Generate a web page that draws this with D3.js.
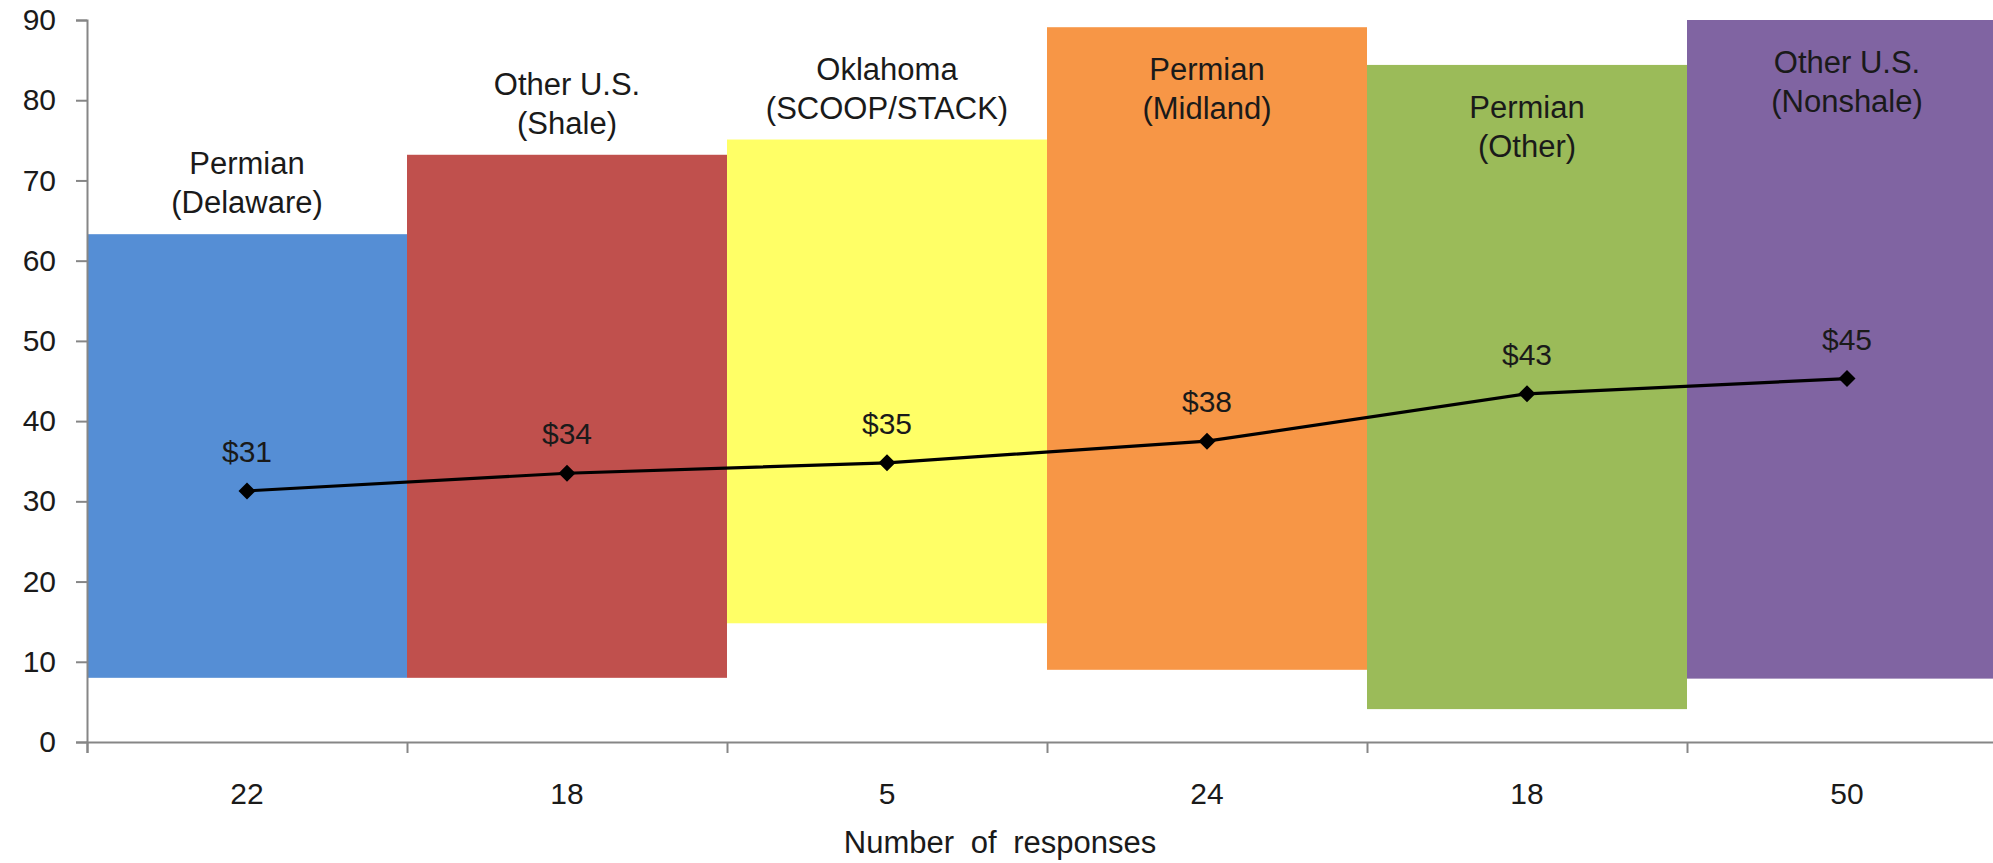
<!DOCTYPE html>
<html>
<head>
<meta charset="utf-8">
<script src="https://cdn.jsdelivr.net/npm/d3@7"></script>
<style>
  body { margin: 0; background: #fff; }
  text { font-family: "Liberation Sans", Arial, sans-serif; fill: #1a1a1a; }
</style>
</head>
<body>
<div id="vis"></div>
<script>
const width = 1993;
const height = 863;

// regions, in the order they sit along the x axis
const regionLines = [
  ["Permian", "(Delaware)"],
  ["Other U.S.", "(Shale)"],
  ["Oklahoma", "(SCOOP/STACK)"],
  ["Permian", "(Midland)"],
  ["Permian", "(Other)"],
  ["Other U.S.", "(Nonshale)"]
];
const responses = ["22", "18", "5", "24", "18", "50"];
const rangeLow  = [8, 8, 14.8, 9, 4.1, 7.9];
const rangeHigh = [63.3, 73.2, 75.1, 89.1, 84.4, 90];
const average   = [31.3, 33.5, 34.8, 37.5, 43.4, 45.3];
const avgLabels = ["$31", "$34", "$35", "$38", "$43", "$45"];
const yTicks = [0, 10, 20, 30, 40, 50, 60, 70, 80, 90];

const colors = ["#558ED5", "#C0504D", "#FFFF66", "#F79646", "#9BBB59", "#8064A2"];

const margin = { left: 87, top: 20, bottom: 121 };
const plotRight = 2007; // the last band runs past the window edge
const n = responses.length;

const svg = d3.select("#vis")
  .append("svg")
  .attr("width", width)
  .attr("height", height);

const x = d3.scaleLinear()
  .domain([0, n])
  .range([margin.left, plotRight]);

const y = d3.scaleLinear()
  .domain([0, 90])
  .range([height - margin.bottom, margin.top]);

// floating bars (low to high for each region)
svg.append("g")
  .selectAll("rect")
  .data(d3.range(n))
  .join("rect")
  .attr("x", i => x(i))
  .attr("width", i => x(i + 1) - x(i))
  .attr("y", i => y(rangeHigh[i]))
  .attr("height", i => y(rangeLow[i]) - y(rangeHigh[i]))
  .attr("fill", i => colors[i]);

// region names: inside the bar when the bar is tall, above it otherwise
const nameG = svg.append("g");
d3.range(n).forEach(i => {
  const top = y(rangeHigh[i]);
  const inside = rangeHigh[i] >= 84;
  const first = inside ? top + 53 : top - 21 - 39;
  regionLines[i].forEach((line, k) => {
    nameG.append("text")
      .attr("x", x(i + 0.5))
      .attr("y", first + k * 39)
      .attr("text-anchor", "middle")
      .style("font-size", "31px")
      .text(line);
  });
});

// axes
const axisColor = "#868686";

const yAxis = svg.append("g")
  .attr("transform", `translate(${margin.left},0)`)
  .call(d3.axisLeft(y).tickValues(yTicks).tickSize(11).tickPadding(20));

const xAxis = svg.append("g")
  .attr("transform", `translate(0,${y(0)})`)
  .call(d3.axisBottom(x).tickValues(d3.range(n + 1)).tickSize(11).tickFormat(""));

[yAxis, xAxis].forEach(a => {
  a.select(".domain").attr("stroke", axisColor).attr("stroke-width", 2);
  a.selectAll(".tick line").attr("stroke", axisColor).attr("stroke-width", 2);
});
yAxis.selectAll(".tick text")
  .style("font-size", "30px")
  .attr("fill", "#1a1a1a");

// response counts centred under each band
svg.append("g")
  .selectAll("text")
  .data(responses)
  .join("text")
  .attr("x", (d, i) => x(i + 0.5))
  .attr("y", y(0) + 62)
  .attr("text-anchor", "middle")
  .style("font-size", "30px")
  .text(d => d);

svg.append("text")
  .attr("x", 1000)
  .attr("y", 853)
  .attr("text-anchor", "middle")
  .style("font-size", "31px")
  .style("word-spacing", "8px")
  .text("Number of responses");

// average line with diamond markers
const line = d3.line()
  .x((d, i) => x(i + 0.5))
  .y(d => y(d));

svg.append("path")
  .datum(average)
  .attr("d", line)
  .attr("fill", "none")
  .attr("stroke", "#000")
  .attr("stroke-width", 3.2);

svg.append("g")
  .selectAll("path")
  .data(average)
  .join("path")
  .attr("d", d3.symbol().type(d3.symbolSquare).size(145))
  .attr("transform", (d, i) => `translate(${x(i + 0.5)},${y(d)}) rotate(45)`)
  .attr("fill", "#000");

svg.append("g")
  .selectAll("text")
  .data(average)
  .join("text")
  .attr("x", (d, i) => x(i + 0.5))
  .attr("y", d => y(d) - 29)
  .attr("text-anchor", "middle")
  .style("font-size", "30px")
  .text((d, i) => avgLabels[i]);
</script>
</body>
</html>
